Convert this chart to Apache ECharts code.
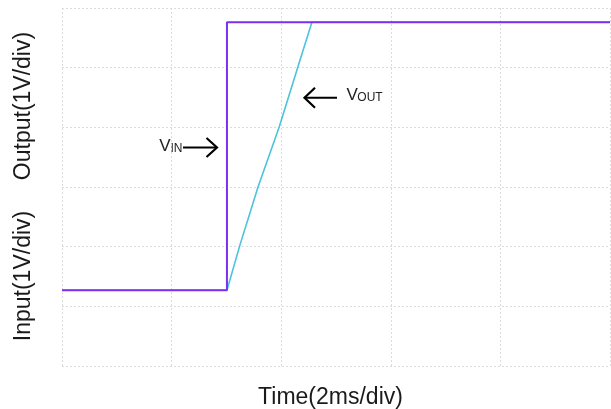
<!DOCTYPE html>
<html>
<head>
<meta charset="utf-8">
<script src="https://cdn.jsdelivr.net/npm/echarts@6/dist/echarts.min.js"></script>
<style>
  html, body { margin: 0; padding: 0; background: #ffffff; }
  #chart { width: 611px; height: 409px; }
</style>
</head>
<body>
<div id="chart"></div>
<script>
// Step response: time in ms (2 ms per division), voltage in divisions (1 V/div)
const timeMs   = [0, 3.01, 3.01, 10];
const vinLevel = [1.27, 1.27, 5.76, 5.76];

const voutTime  = [0, 3.01, 3.248, 3.577, 3.965, 4.307, 4.56, 10];
const voutLevel = [1.27, 1.27, 2.03, 3.0, 4.01, 5.02, 5.76, 5.76];

const xDivisions = { min: 0, max: 10, step: 2 };
const yDivisions = { min: 0, max: 6, step: 1 };

const font = 'Liberation Sans, Arial, sans-serif';
const ink = '#1a1a1a';

const pair = (xs, ys) => xs.map((x, i) => [x, ys[i]]);

const chart = echarts.init(document.getElementById('chart'), null, { renderer: 'canvas' });

const gridLine = { show: true, lineStyle: { color: '#dcdcdc', width: 1, type: [2, 2] } };

// open arrowhead + shaft
function arrow(x1, x2, y, headLen, headHalf) {
  const dir = Math.sign(x2 - x1);
  return [
    { type: 'line', shape: { x1: x1, y1: y, x2: x2, y2: y },
      style: { stroke: '#000', lineWidth: 2 } },
    { type: 'polyline', shape: { points: [[x2 - dir * headLen, y - headHalf], [x2, y], [x2 - dir * headLen, y + headHalf]] },
      style: { stroke: '#000', lineWidth: 2.2, fill: null, lineJoin: 'miter' } }
  ];
}

chart.setOption({
  animation: false,
  backgroundColor: '#ffffff',
  grid: { left: 62, right: 1, top: 8, bottom: 43 },
  xAxis: {
    type: 'value',
    min: xDivisions.min, max: xDivisions.max, interval: xDivisions.step,
    axisLine: { show: false }, axisTick: { show: false }, axisLabel: { show: false },
    splitLine: gridLine
  },
  yAxis: {
    type: 'value',
    min: yDivisions.min, max: yDivisions.max, interval: yDivisions.step,
    axisLine: { show: false }, axisTick: { show: false }, axisLabel: { show: false },
    splitLine: gridLine
  },
  series: [
    {
      name: 'VOUT', type: 'line', data: pair(voutTime, voutLevel),
      showSymbol: false, lineStyle: { color: '#4cc3dd', width: 1.6 }, z: 2
    },
    {
      name: 'VIN', type: 'line', data: pair(timeMs, vinLevel),
      showSymbol: false, lineStyle: { color: '#7a30f2', width: 2 }, z: 3
    }
  ],
  graphic: [
    { type: 'text', x: 330.5, y: 398,
      style: { text: 'Time(2ms/div)', font: '23px ' + font, fill: ink, align: 'center', verticalAlign: 'middle' } },
    { type: 'text', x: 24, y: 106, rotation: Math.PI / 2,
      style: { text: 'Output(1V/div)', font: '23px ' + font, fill: ink, align: 'center', verticalAlign: 'middle' } },
    { type: 'text', x: 24, y: 276, rotation: Math.PI / 2,
      style: { text: 'Input(1V/div)', font: '23px ' + font, fill: ink, align: 'center', verticalAlign: 'middle' } },

    { type: 'text', x: 159.3, y: 146,
      style: { text: 'V', font: '17px ' + font, fill: '#222', align: 'left', verticalAlign: 'middle' } },
    { type: 'text', x: 170.5, y: 148.3,
      style: { text: 'IN', font: '12px ' + font, fill: '#222', align: 'left', verticalAlign: 'middle' } },
    ...arrow(183, 217, 147.5, 10.5, 9.5),

    ...arrow(337, 304.5, 97.7, 10.5, 10),
    { type: 'text', x: 346.5, y: 95.5,
      style: { text: 'V', font: '17px ' + font, fill: '#222', align: 'left', verticalAlign: 'middle' } },
    { type: 'text', x: 357.3, y: 98,
      style: { text: 'OUT', font: '12px ' + font, fill: '#222', align: 'left', verticalAlign: 'middle' } }
  ]
});
</script>
</body>
</html>
